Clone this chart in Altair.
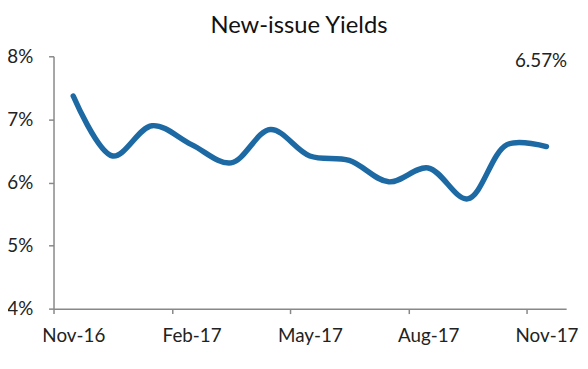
import altair as alt
import pandas as pd

months = ["Nov-16", "Dec-16", "Jan-17", "Feb-17", "Mar-17", "Apr-17", "May-17",
          "Jun-17", "Jul-17", "Aug-17", "Sep-17", "Oct-17", "Nov-17"]
yields = [7.37, 6.42, 6.90, 6.60, 6.31, 6.84, 6.42, 6.35, 6.01, 6.23, 5.74, 6.60, 6.57]
tick_months = [0, 3, 6, 9, 12]
y_ticks = [4, 5, 6, 7, 8]

df = pd.DataFrame({"month": months, "value": yields})
df["pos"] = [i + 0.5 for i in range(len(months))]

label_js = "[" + ",".join("'" + m + "'" for m in months) + "]"
FONT = "Lato"

x_axis = alt.Axis(values=tick_months, labelExpr=label_js + "[datum.value]",
                  labelOffset=20, labelFlush=False, labelOverlap=False,
                  tickSize=5, labelPadding=13, labelFontSize=19,
                  labelColor="#222222", title=None, grid=False)
y_axis = alt.Axis(values=y_ticks, labelExpr="datum.value + '%'", tickSize=5,
                  labelFlush=False, labelOverlap=False,
                  labelPadding=16, labelFontSize=19, labelColor="#222222",
                  title=None, grid=False)

line = alt.Chart(df).mark_line(
    interpolate="catmull-rom", strokeWidth=5.5, color="#1c69a3", strokeCap="round"
).encode(
    x=alt.X("pos:Q", scale=alt.Scale(domain=[0, 13], nice=False, zero=False), axis=x_axis),
    y=alt.Y("value:Q", scale=alt.Scale(domain=[4, 8], nice=False, zero=False), axis=y_axis),
)

last = pd.DataFrame({"v": [yields[-1]]})
annot = alt.Chart(last).transform_calculate(
    label="format(datum.v, '.2f') + '%'"
).mark_text(align="right", baseline="middle", fontSize=19, color="#222222", font=FONT).encode(
    x=alt.value(519), y=alt.value(5), text="label:N"
)

chart = alt.layer(line, annot).properties(
    width=518, height=255,
    title=alt.TitleParams("New-issue Yields", fontSize=24, fontWeight="normal",
                          color="#111111", anchor="middle", dx=-11, offset=10, font=FONT),
    autosize=alt.AutoSizeParams(type="none"),
    padding={"left": 46, "top": 47, "right": 14, "bottom": 40},
).configure_view(stroke=None).configure_axis(
    domainColor="#888888", tickColor="#888888", domainWidth=1.5, tickWidth=1.5,
    labelFont=FONT
)

chart.save("out.html", embed_options={"renderer": "svg", "actions": False})
